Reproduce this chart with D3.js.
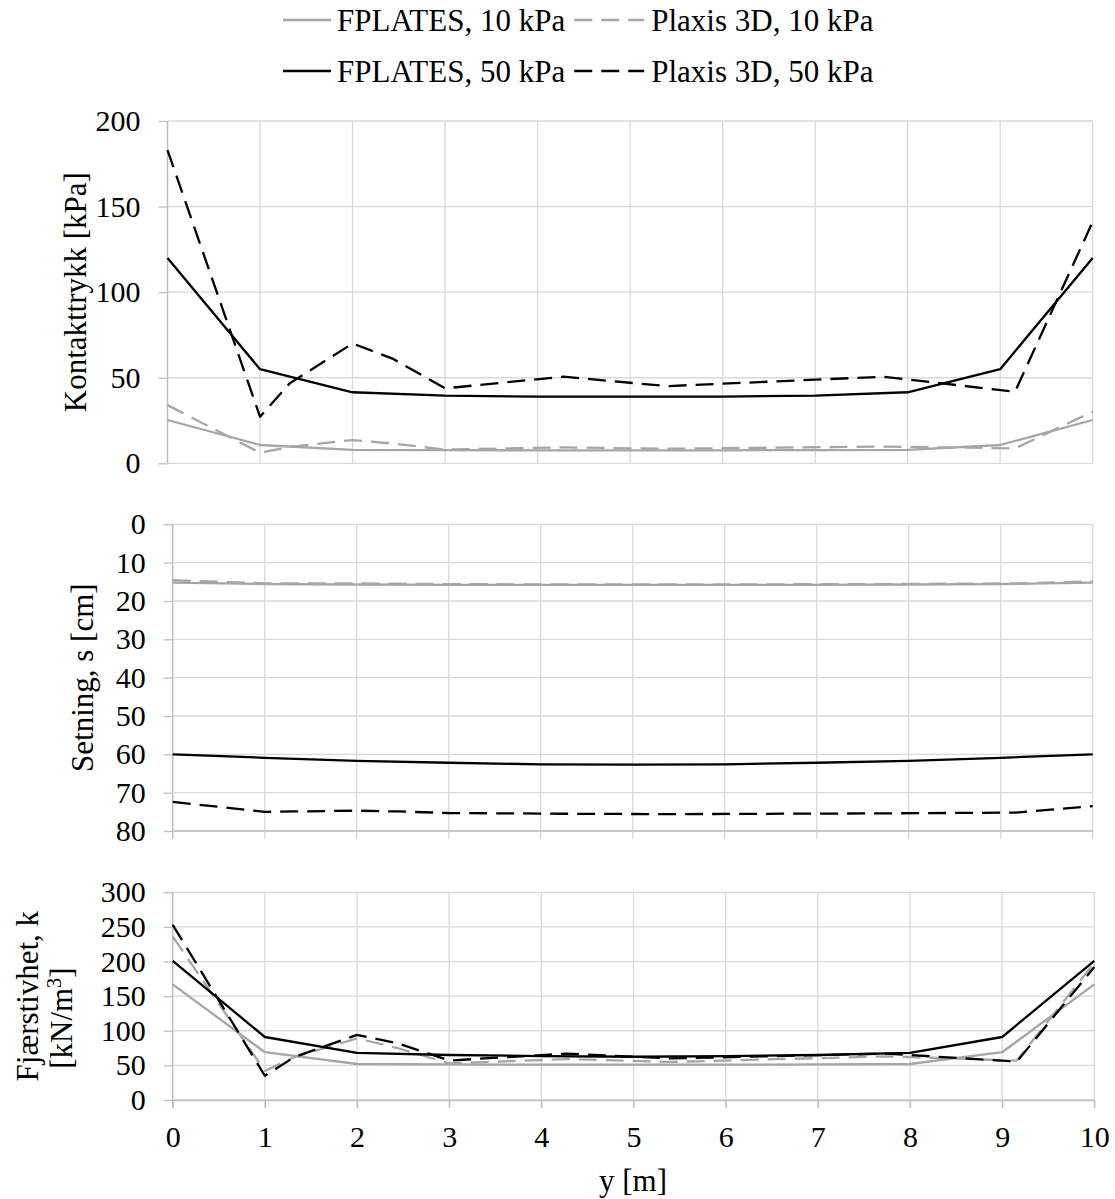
<!DOCTYPE html>
<html>
<head>
<meta charset="utf-8">
<script src="https://cdn.jsdelivr.net/npm/d3@7"></script>
<style>
  body { margin: 0; background: #fff; }
  text { font-family: "Liberation Serif", "Times New Roman", serif; fill: #000; }
</style>
</head>
<body>
<svg id="chart" width="1115" height="1199"></svg>
<script>
// Positions along the plate, y [m]
const posFplates = [0, 1, 2, 3, 4, 5, 6, 7, 8, 9, 10];
const posPlaxis  = [0, 1, 1.32, 2, 2.44, 3, 4.28, 5.4, 7.74, 9.16, 10];

// Contact pressure [kPa]
const kontaktFplates10 = [25.3, 10.7, 7.9, 7.7, 7.6, 7.6, 7.6, 7.7, 7.9, 10.7, 25.3];
const kontaktPlaxis10  = [34, 6.2, 9.5, 13.6, 11.5, 8, 9.3, 8.5, 9.8, 8.7, 30.2];
const kontaktFplates50 = [120, 55, 41.5, 39.5, 39, 38.9, 39, 39.5, 41.5, 55, 120];
const kontaktPlaxis50  = [183, 27.2, 46.7, 70, 61, 43.8, 50.6, 45.1, 50.6, 41.8, 141.1];

// Settlement [cm]
const setningFplates10 = [15.2, 15.6, 15.7, 15.8, 15.8, 15.8, 15.8, 15.8, 15.7, 15.6, 15.2];
const setningPlaxis10  = [14.6, 15.4, 15.4, 15.4, 15.5, 15.6, 15.7, 15.7, 15.6, 15.4, 14.9];
const setningFplates50 = [60, 60.9, 61.7, 62.2, 62.6, 62.7, 62.6, 62.2, 61.7, 60.9, 60];
const setningPlaxis50  = [72.4, 75, 74.9, 74.7, 74.9, 75.3, 75.5, 75.6, 75.4, 75.2, 73.5];

// Spring stiffness [kN/m3]
const fjaerFplates10 = [167, 69, 52, 51.5, 51, 51, 51, 51.5, 52, 69, 167];
const fjaerPlaxis10  = [236, 42, 62, 89, 75, 53, 59, 55, 63, 57, 198];
const fjaerFplates50 = [201, 91, 68, 65, 63.5, 62.5, 63.5, 65, 68, 91, 201];
const fjaerPlaxis50  = [253, 35, 62, 94, 82, 57, 67, 60, 67, 55.5, 192];

// Tick values
const xTicks       = [0, 1, 2, 3, 4, 5, 6, 7, 8, 9, 10];
const kontaktTicks = [0, 50, 100, 150, 200];
const setningTicks = [0, 10, 20, 30, 40, 50, 60, 70, 80];
const fjaerTicks   = [0, 50, 100, 150, 200, 250, 300];

const seriesNames = ["FPLATES, 10 kPa", "Plaxis 3D, 10 kPa", "FPLATES, 50 kPa", "Plaxis 3D, 50 kPa"];

const TICK_FONT = 30;
const LABEL_FONT = 31;
const GREY = "#a6a6a6";
const GRID = "#d9d9d9";
const AXIS = "#bfbfbf";
const LW = 2.3;
const DASH = "18,9";

const styles = [
  { color: GREY, dash: null },
  { color: GREY, dash: DASH },
  { color: "#000", dash: null },
  { color: "#000", dash: DASH }
];

const svg = d3.select("#chart");

function drawPanel(cfg) {
  const g = svg.append("g");
  const x = d3.scaleLinear().domain([0, 10]).range([cfg.left, cfg.right]);
  const y = d3.scaleLinear().domain(cfg.domain).range([cfg.bottom, cfg.top]);
  const yTop = Math.min(y(cfg.domain[0]), y(cfg.domain[1]));
  const yBot = Math.max(y(cfg.domain[0]), y(cfg.domain[1]));

  // horizontal grid
  g.append("g").selectAll("line").data(cfg.ticks).join("line")
    .attr("x1", x(0)).attr("x2", x(10))
    .attr("y1", d => y(d)).attr("y2", d => y(d))
    .attr("stroke", GRID).attr("stroke-width", 1.3);

  // vertical grid
  g.append("g").selectAll("line").data(xTicks.slice(1)).join("line")
    .attr("x1", d => x(d)).attr("x2", d => x(d))
    .attr("y1", yTop).attr("y2", yBot + (cfg.xTickLen || 0))
    .attr("stroke", GRID).attr("stroke-width", 1.3);

  // left axis
  const ax = g.append("g")
    .attr("transform", `translate(${x(0)},0)`)
    .call(d3.axisLeft(y).tickValues(cfg.ticks).tickSize(9).tickPadding(18).tickSizeOuter(0));
  ax.select(".domain").attr("stroke", AXIS).attr("stroke-width", 1.5)
    .attr("d", `M0,${yTop}V${yBot + (cfg.xTickLen || 0)}`);
  ax.selectAll(".tick line").attr("stroke", AXIS).attr("stroke-width", 1.3);
  ax.selectAll(".tick text").attr("font-size", TICK_FONT).attr("font-family", null);

  // bottom axis with labels
  if (cfg.xLabels) {
    const bx = g.append("g")
      .attr("transform", `translate(0,${yBot})`)
      .call(d3.axisBottom(x).tickValues(xTicks).tickSize(cfg.xTickLen).tickPadding(18).tickSizeOuter(0));
    bx.select(".domain").attr("stroke", AXIS).attr("stroke-width", 1.5);
    bx.selectAll(".tick line").attr("stroke", AXIS).attr("stroke-width", 1.3);
    bx.selectAll(".tick text").attr("font-size", TICK_FONT).attr("font-family", null);
  } else if (cfg.xTickLen) {
    g.append("line").attr("x1", x(0)).attr("x2", x(10))
      .attr("y1", yBot).attr("y2", yBot)
      .attr("stroke", AXIS).attr("stroke-width", 1.5);
  }

  // data lines
  const line = d3.line().x(d => x(d[0])).y(d => y(d[1]));
  cfg.series.forEach((s, i) => {
    const pts = s.pos.map((p, j) => [p, s.vals[j]]);
    g.append("path").datum(pts)
      .attr("d", line)
      .attr("fill", "none")
      .attr("stroke", styles[i].color)
      .attr("stroke-width", LW)
      .attr("stroke-dasharray", styles[i].dash)
      .attr("stroke-linejoin", "round");
  });

  // axis title (one text element per line)
  const cy = (yTop + yBot) / 2;
  cfg.title.forEach(t => {
    const tx = svg.append("text")
      .attr("transform", `translate(${t.x},${cy + (t.dy || 0)}) rotate(-90)`)
      .attr("text-anchor", "middle")
      .attr("dy", "0.35em")
      .attr("font-size", LABEL_FONT);
    t.parts.forEach(p => {
      const ts = tx.append("tspan").text(p.s);
      if (p.sup) ts.attr("baseline-shift", "super").attr("font-size", LABEL_FONT * 0.65);
    });
  });
}

drawPanel({
  left: 167.5, right: 1092.7, top: 121, bottom: 463.3,
  domain: [0, 200], ticks: kontaktTicks, xTickLen: 0,
  series: [
    { pos: posFplates, vals: kontaktFplates10 },
    { pos: posPlaxis,  vals: kontaktPlaxis10 },
    { pos: posFplates, vals: kontaktFplates50 },
    { pos: posPlaxis,  vals: kontaktPlaxis50 }
  ],
  title: [{ x: 75, parts: [{ s: "Kontakttrykk [kPa]" }] }]
});

drawPanel({
  left: 172.7, right: 1092.7, top: 524.3, bottom: 831,
  domain: [80, 0], ticks: setningTicks, xTickLen: 8,
  series: [
    { pos: posFplates, vals: setningFplates10 },
    { pos: posPlaxis,  vals: setningPlaxis10 },
    { pos: posFplates, vals: setningFplates50 },
    { pos: posPlaxis,  vals: setningPlaxis50 }
  ],
  title: [{ x: 82, parts: [{ s: "Setning, s [cm]" }] }]
});

drawPanel({
  left: 172.7, right: 1094.3, top: 892.3, bottom: 1100,
  domain: [0, 300], ticks: fjaerTicks, xTickLen: 8, xLabels: true,
  series: [
    { pos: posFplates, vals: fjaerFplates10 },
    { pos: posPlaxis,  vals: fjaerPlaxis10 },
    { pos: posFplates, vals: fjaerFplates50 },
    { pos: posPlaxis,  vals: fjaerPlaxis50 }
  ],
  title: [
    { x: 27, parts: [{ s: "Fjærstivhet, k" }] },
    { x: 61, dy: 22, parts: [{ s: "[kN/m" }, { s: "3", sup: true }, { s: "]" }] }
  ]
});

// x-axis title
svg.append("text")
  .attr("x", 633).attr("y", 1191)
  .attr("text-anchor", "middle")
  .attr("font-size", LABEL_FONT)
  .text("y [m]");

// legend: two rows, two columns
const legend = svg.append("g");
const rows = [[0, 1], [2, 3]];
const rowY = [20, 71];
rows.forEach((row, r) => {
  const y = rowY[r];
  // first column: symbol then text
  legend.append("line")
    .attr("x1", 283).attr("x2", 331).attr("y1", y).attr("y2", y)
    .attr("stroke", styles[row[0]].color).attr("stroke-width", LW)
    .attr("stroke-dasharray", styles[row[0]].dash);
  const t1 = legend.append("text")
    .attr("x", 337).attr("y", y).attr("dy", "0.35em")
    .attr("font-size", LABEL_FONT)
    .text(seriesNames[row[0]]);
  const x2 = 337 + t1.node().getComputedTextLength() + 9;
  // second column
  legend.append("line")
    .attr("x1", x2).attr("x2", x2 + 70).attr("y1", y).attr("y2", y)
    .attr("stroke", styles[row[1]].color).attr("stroke-width", LW)
    .attr("stroke-dasharray", styles[row[1]].dash);
  legend.append("text")
    .attr("x", x2 + 77).attr("y", y).attr("dy", "0.35em")
    .attr("font-size", LABEL_FONT)
    .text(seriesNames[row[1]]);
});
</script>
</body>
</html>
